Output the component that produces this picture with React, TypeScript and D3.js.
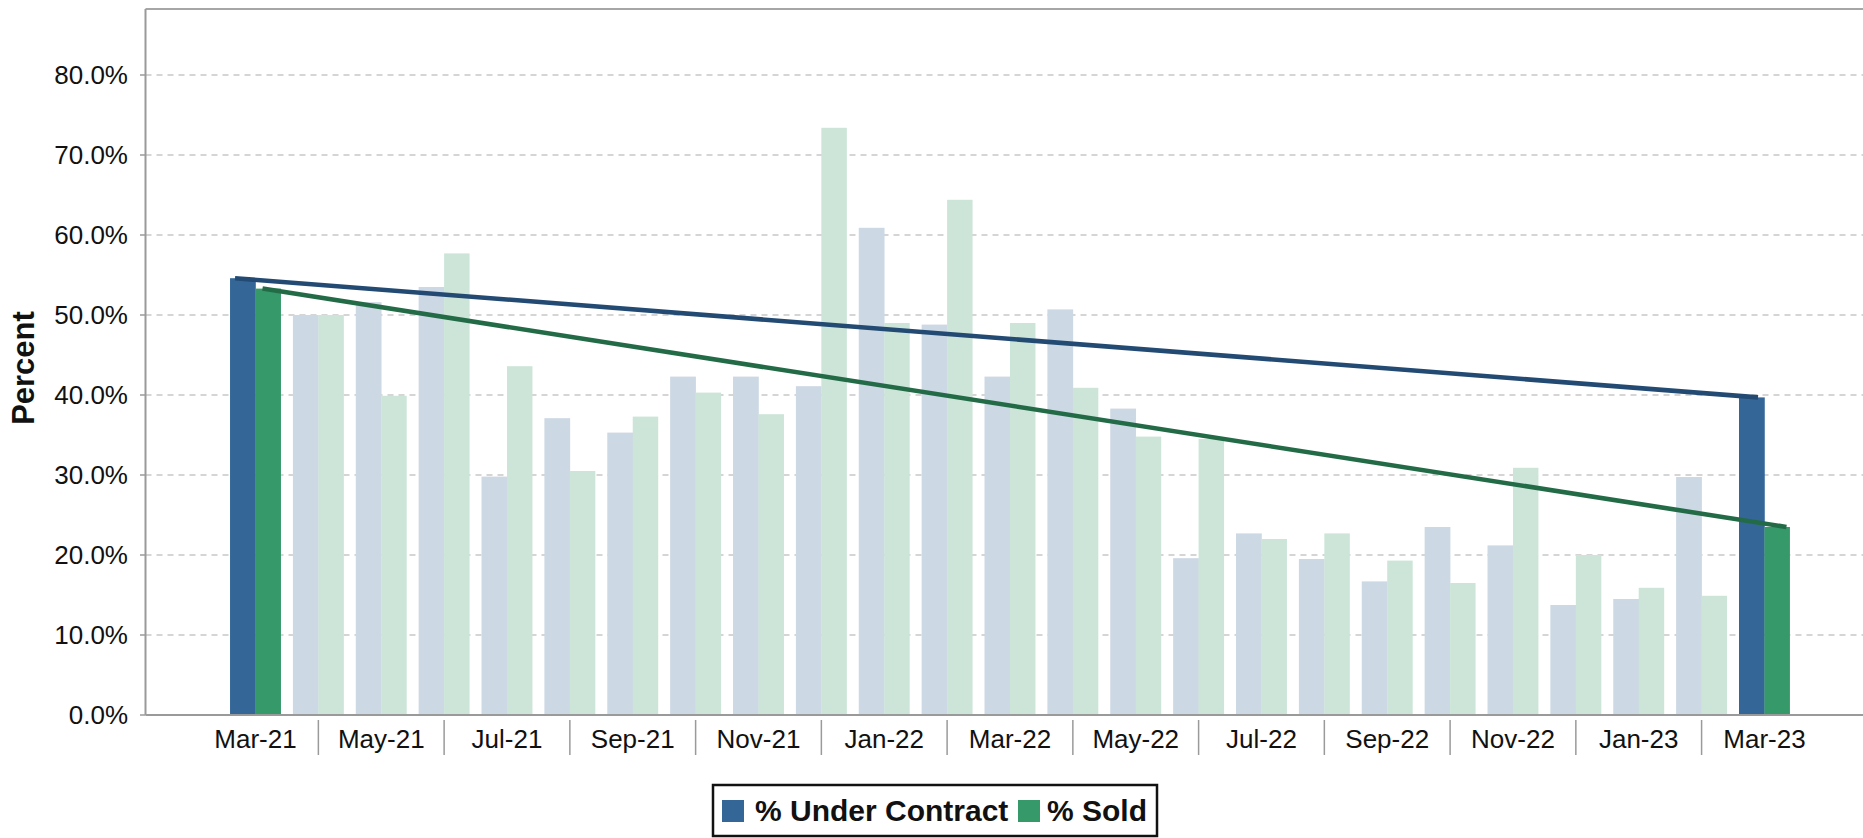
import React from "react";
import * as d3 from "d3";

const months = [
  "Mar-21", "Apr-21", "May-21", "Jun-21", "Jul-21", "Aug-21", "Sep-21", "Oct-21", "Nov-21", "Dec-21",
  "Jan-22", "Feb-22", "Mar-22", "Apr-22", "May-22", "Jun-22", "Jul-22", "Aug-22", "Sep-22", "Oct-22",
  "Nov-22", "Dec-22", "Jan-23", "Feb-23", "Mar-23",
];
const underContract = [
  54.6, 50.0, 51.6, 53.5, 29.8, 37.1, 35.3, 42.3, 42.3, 41.1,
  60.9, 48.8, 42.3, 50.7, 38.3, 19.6, 22.7, 19.5, 16.7, 23.5,
  21.2, 13.75, 14.5, 29.75, 39.7,
];
const sold = [
  53.3, 50.0, 39.9, 57.7, 43.6, 30.5, 37.3, 40.3, 37.6, 73.4,
  49.0, 64.4, 49.0, 40.9, 34.8, 34.5, 22.0, 22.7, 19.3, 16.5,
  30.9, 20.0, 15.9, 14.9, 23.5,
];
const yTicks = [0, 10, 20, 30, 40, 50, 60, 70, 80];
const seriesNames = ["% Under Contract", "% Sold"];

const W = 1863;
const H = 838;
const FONT = "'Liberation Sans', Arial, Helvetica, sans-serif";

const colors = {
  ucStrong: "#346798",
  soldStrong: "#35996A",
  ucFaded: "#CCD8E4",
  soldFaded: "#CCE5D8",
  ucLine: "#234A72",
  soldLine: "#236B47",
  axis: "#9a9a9a",
  grid: "#c8c8c8",
};

export default function App() {
  const left = 145.5;
  const top = 9;
  const bottom = 715;

  const y = d3.scaleLinear().domain([0, 88.25]).range([bottom, top]);
  const x = d3
    .scaleBand<string>()
    .domain(months)
    .range([224.06, 1795.9])
    .paddingInner(0.19)
    .paddingOuter(0.095);
  const sub = d3.scaleBand<string>().domain(seriesNames).range([0, x.bandwidth()]);
  const bw = sub.bandwidth();

  const last = months.length - 1;
  const ucX0 = (x(months[0]) ?? 0) + (sub(seriesNames[0]) ?? 0);
  const ucX1 = (x(months[last]) ?? 0) + (sub(seriesNames[0]) ?? 0);
  const sX0 = (x(months[0]) ?? 0) + (sub(seriesNames[1]) ?? 0);
  const sX1 = (x(months[last]) ?? 0) + (sub(seriesNames[1]) ?? 0);

  const line = d3.line<[number, number]>().x((d) => d[0]).y((d) => d[1]);
  const ucTrend = line([
    [ucX0 + 5, y(underContract[0])],
    [ucX1 + 19, y(underContract[last])],
  ]);
  const soldTrend = line([
    [sX0 + 7, y(sold[0])],
    [sX1 + 22, y(sold[last])],
  ]);

  const isStrong = (i: number) => i === 0 || i === last;

  return (
    <svg
      width={W}
      height={H}
      style={{ position: "absolute", left: 0, top: 0, background: "#fff" }}
      fontFamily={FONT}
    >
      {/* gridlines */}
      {yTicks.map((t) =>
        t === 0 ? null : (
          <line
            key={"g" + t}
            x1={left}
            x2={W}
            y1={y(t)}
            y2={y(t)}
            stroke={colors.grid}
            strokeWidth={1.5}
            strokeDasharray="6,5"
          />
        )
      )}
      {/* y ticks and labels */}
      {yTicks.map((t) => (
        <g key={"t" + t}>
          <line x1={140} x2={left} y1={y(t)} y2={y(t)} stroke={colors.axis} strokeWidth={1.5} />
          <text x={128} y={y(t)} dy="0.36em" textAnchor="end" fontSize={26} fill="#111">
            {t.toFixed(1) + "%"}
          </text>
        </g>
      ))}
      {/* bars */}
      {months.map((m, i) => (
        <g key={m} transform={`translate(${x(m)},0)`}>
          <rect
            x={sub(seriesNames[0])}
            y={y(underContract[i])}
            width={bw + 0.3}
            height={bottom - y(underContract[i])}
            fill={isStrong(i) ? colors.ucStrong : colors.ucFaded}
          />
          <rect
            x={sub(seriesNames[1])}
            y={y(sold[i])}
            width={bw}
            height={bottom - y(sold[i])}
            fill={isStrong(i) ? colors.soldStrong : colors.soldFaded}
          />
        </g>
      ))}
      {/* trend lines */}
      <path d={ucTrend ?? ""} stroke={colors.ucLine} strokeWidth={4.6} fill="none" />
      <path d={soldTrend ?? ""} stroke={colors.soldLine} strokeWidth={4.6} fill="none" />
      {/* axes frame */}
      <line x1={left} x2={W} y1={top} y2={top} stroke="#a6a6a6" strokeWidth={2} />
      <line x1={left} x2={left} y1={top} y2={bottom} stroke={colors.axis} strokeWidth={2} />
      <line x1={left} x2={W} y1={bottom} y2={bottom} stroke={colors.axis} strokeWidth={2} />
      {/* x labels and separators */}
      {months.map((m, i) => {
        const cx = (x(m) ?? 0) + x.bandwidth() / 2;
        return i % 2 === 0 ? (
          <text key={"xl" + m} x={cx} y={748} textAnchor="middle" fontSize={26} fill="#111">
            {m}
          </text>
        ) : (
          <line key={"xs" + m} x1={cx} x2={cx} y1={720} y2={755} stroke={colors.axis} strokeWidth={1.5} />
        );
      })}
      {/* y title */}
      <text
        transform={`translate(34,${(top + bottom) / 2 + 6}) rotate(-90)`}
        textAnchor="middle"
        fontSize={31}
        fontWeight="bold"
        fill="#111"
      >
        Percent
      </text>
      {/* legend */}
      <g>
        <rect x={713} y={785} width={444} height={51} fill="#fff" stroke="#111" strokeWidth={2.5} />
        <rect x={722} y={800} width={22} height={22} fill={colors.ucStrong} />
        <text x={755} y={821} fontSize={30} fontWeight="bold" fill="#111">
          {seriesNames[0]}
        </text>
        <rect x={1018} y={800} width={22} height={22} fill={colors.soldStrong} />
        <text x={1047} y={821} fontSize={30} fontWeight="bold" fill="#111">
          {seriesNames[1]}
        </text>
      </g>
    </svg>
  );
}
